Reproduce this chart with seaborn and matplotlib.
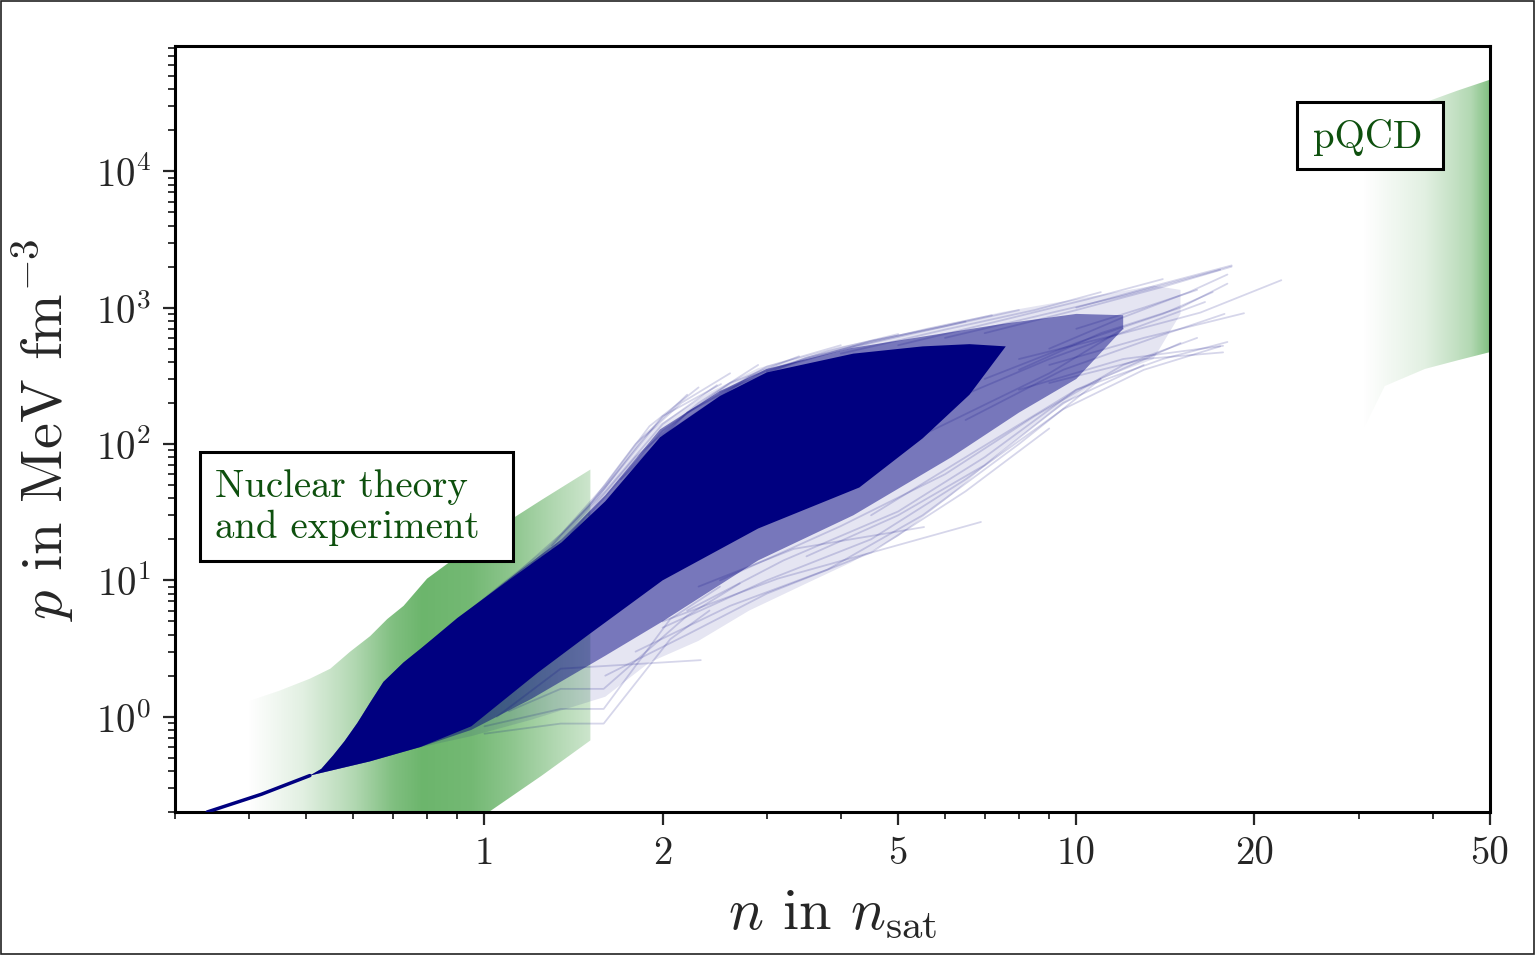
import numpy as np
import pandas as pd
import matplotlib
matplotlib.use("Agg")
import matplotlib.pyplot as plt
import seaborn as sns
from matplotlib.ticker import FixedLocator, FixedFormatter, LogLocator, NullFormatter, LogFormatterSciNotation
from matplotlib.patches import Rectangle

sns.set_style("ticks")
plt.rcParams['font.family'] = ['cmr10', 'DejaVu Serif']
plt.rcParams['mathtext.fontset'] = 'cm'
plt.rcParams['axes.formatter.use_mathtext'] = True
plt.rcParams['axes.unicode_minus'] = False

# --- green constraint bands -------------------------------------------------
nuc_x = [0.397, 0.45, 0.507, 0.549, 0.593, 0.641, 0.685, 0.73, 0.80, 1.0, 1.25, 1.51]
nuc_hi = [1.29, 1.55, 1.9, 2.25, 3.0, 3.9, 5.2, 6.5, 10.3, 21, 39, 65]
nuc_lo = [0.013, 0.018, 0.027, 0.034, 0.043, 0.055, 0.067, 0.08, 0.10, 0.19, 0.37, 0.67]

pq_x = [30.4, 33.2, 38.8, 44.0, 50.0]
pq_hi = [2.0e4, 2.4e4, 3.2e4, 3.9e4, 4.7e4]
pq_lo = [122, 266, 355, 410, 472]

# --- EoS ensemble envelopes (outer fringe, medium density, dense core) -----
out_up_x = [0.507, 0.53, 0.555, 0.58, 0.61, 0.641, 0.675, 0.73, 0.78, 1.08, 1.35, 1.55, 1.9,
            2.4, 2.9, 4.0, 5.4, 7.5, 10.5, 13.5, 15.0]
out_up_y = [0.37, 0.414, 0.52, 0.66, 0.9, 1.27, 1.8, 2.5, 3.15, 9.9, 21, 42, 125,
            240, 360, 520, 680, 930, 1200, 1450, 1350]
out_lo_x = [0.507, 0.64, 0.73, 0.95, 1.2, 1.6, 1.9, 2.3, 2.8, 3.5, 4.16, 5.0, 6.15, 7.5, 9.1, 11, 13.5, 15.0]
out_lo_y = [0.37, 0.47, 0.56, 0.72, 0.95, 1.4, 2.5, 3.6, 6.0, 9.5, 13.5, 21, 42, 90, 170, 300, 420, 900]

mid_up_x = [0.507, 0.53, 0.555, 0.58, 0.61, 0.641, 0.675, 0.73, 0.78, 1.08, 1.35, 1.6, 1.98,
            2.5, 3.0, 4.16, 5.46, 7.5, 10, 12.0]
mid_up_y = [0.37, 0.414, 0.52, 0.66, 0.9, 1.27, 1.8, 2.5, 3.15, 9.7, 20, 42, 128,
            245, 355, 505, 610, 760, 900, 880]
mid_lo_x = [0.507, 0.64, 0.78, 0.95, 1.2, 1.6, 2.0, 2.9, 4.2, 6.15, 8.0, 10.0, 12.0]
mid_lo_y = [0.37, 0.47, 0.6, 0.8, 1.35, 2.8, 5.0, 14, 30, 80, 170, 300, 700]

core_up_x = [0.34, 0.507, 0.53, 0.555, 0.58, 0.61, 0.641, 0.675, 0.73, 0.78, 0.9, 1.08,
             1.35, 1.6, 1.98, 2.5, 3.0, 4.2, 5.5, 6.6, 7.6]
core_up_y = [0.2, 0.37, 0.414, 0.52, 0.66, 0.9, 1.27, 1.8, 2.5, 3.15, 5.3, 9.5,
             19, 38, 112, 225, 335, 460, 520, 540, 520]
core_lo_x = [0.34, 0.507, 0.64, 0.78, 0.95, 1.23, 1.5, 2.0, 2.9, 4.3, 5.5, 6.6, 7.6]
core_lo_y = [0.2, 0.37, 0.47, 0.6, 0.85, 2.1, 4.0, 10, 24, 48, 110, 230, 520]

# single low-density curve (all EoS share the crust)
crust_x = [0.34, 0.42, 0.507]
crust_y = [0.2, 0.27, 0.37]

# individual curves visible in the sparse fringes
stray = {
    "A": ([1.0, 1.345, 1.59, 2.06, 2.4], [0.75, 0.89, 0.89, 3.7, 6.0]),
    "B": ([1.0, 1.345, 1.59, 2.06, 2.5], [0.85, 1.14, 1.14, 5.2, 9.0]),
    "C": ([1.1, 1.345, 1.59, 2.2, 2.7], [1.1, 1.6, 1.6, 5.5, 9.5]),
    "D": ([1.05, 1.345, 2.32], [1.0, 2.25, 2.6]),
    "E": ([2.0, 3.13, 6.9], [5.0, 10.3, 26.8]),
    "F": ([2.3, 3.33, 5.53], [9.0, 17.0, 24.6]),
    "G": ([8.0, 12.0, 16.2, 22.2], [420, 650, 920, 1590]),
    "H": ([8.0, 12.0, 17.7], [250, 420, 525]),
    "I": ([9.0, 13.0, 17.7], [280, 420, 470]),
    "J": ([9.0, 13.0, 19.2], [380, 600, 910]),
    "K": ([10.0, 14.0, 18.3], [1000, 1500, 2040]),
    "L": ([1.3, 1.6, 2.0, 2.51], [18, 48, 160, 275]),
    "M": ([4.0, 6.0, 9.0, 12.0], [60, 140, 330, 700]),
    "N": ([3.5, 5.0, 7.0, 9.5, 13.0], [15, 30, 70, 200, 380]),
    "O": ([4.5, 6.5, 10.0, 15.0], [30, 80, 250, 550]),
    "U1": ([1.2, 1.5, 1.8, 2.2], [13, 35, 100, 230]),
    "U2": ([1.3, 1.6, 2.0, 2.47], [17, 45, 140, 270]),
    "U3": ([1.4, 1.8, 2.3, 2.9], [22, 80, 200, 380]),
    "U4": ([1.5, 2.0, 2.6, 3.4], [30, 125, 280, 440]),
    "U5": ([1.7, 2.2, 3.0, 4.0], [55, 170, 370, 530]),
    "U6": ([2.0, 2.8, 3.8, 5.0], [115, 310, 480, 640]),
    "U7": ([2.5, 3.5, 5.0, 6.5], [240, 430, 610, 790]),
    "U8": ([3.0, 4.5, 6.0, 8.0], [340, 570, 730, 960]),
    "U9": ([4.0, 6.0, 8.5, 11.0], [460, 690, 960, 1300]),
    "U10": ([5.0, 7.5, 10.5, 14.0], [530, 810, 1160, 1620]),
    "U11": ([6.0, 9.0, 12.0, 17.5], [600, 910, 1220, 1900]),
    "U12": ([7.0, 10.0, 14.0, 18.3], [650, 960, 1420, 2000]),
    "U13": ([1.1, 1.35, 1.6, 1.9, 2.3], [10, 22, 50, 135, 260]),
    "U14": ([1.25, 1.55, 1.85, 2.15, 2.6], [15, 40, 110, 200, 330]),
    "U15": ([2.2, 3.0, 4.2, 5.6, 7.2], [170, 350, 520, 700, 880]),
    "W1": ([1.6, 2.2, 3.0, 4.5, 6.5, 9.0], [2.0, 4.0, 8.0, 16, 45, 130]),
    "W2": ([1.8, 2.6, 3.8, 5.5, 8.0, 11.0], [3.0, 6.5, 12, 30, 100, 300]),
    "W3": ([2.0, 3.0, 4.5, 6.5, 9.5, 13.0, 17.5], [4.5, 10, 20, 55, 180, 350, 520]),
    "W4": ([2.2, 3.2, 5.0, 7.0, 10.0, 14.0, 18.0], [6.0, 14, 32, 80, 250, 420, 560]),
    "W5": ([2.5, 4.0, 6.0, 8.5, 12.0, 16.0], [10, 25, 60, 160, 380, 600]),
    "R1": ([6.0, 9.0, 13.0, 16.5], [200, 420, 750, 1100]),
    "R2": ([7.0, 10.0, 14.0, 17.0], [300, 550, 900, 1300]),
    "R3": ([8.0, 11.0, 15.0, 18.0], [350, 650, 1000, 1500]),
    "R4": ([6.5, 9.5, 13.5, 17.8], [150, 350, 600, 900]),
    "R5": ([9.0, 12.0, 15.5, 18.0], [500, 850, 1300, 1750]),
    "R6": ([10.0, 13.0, 16.0], [700, 1000, 1350]),
}

x_ticks = [1, 2, 5, 10, 20, 50]
x_ticklabels = ["1", "2", "5", "10", "20", "50"]
xlim = (0.3, 50)
ylim = (0.2, 8.3e4)

navy = "#000080"
green = (0.0, 0.5, 0.0)
text_green = "#0e500e"

fig = plt.figure(figsize=(15.37, 9.62), dpi=100)
ax = fig.add_axes([175 / 1537, 1 - 813 / 962, 1315 / 1537, 766 / 962])
ax.set_xscale("log")
ax.set_yscale("log")
ax.set_xlim(*xlim)
ax.set_ylim(*ylim)
ax.set_autoscale_on(False)


def gradient_band(x, lo, hi, t_pts, a_pts):
    poly = ax.fill_between(x, lo, hi, facecolor="none", edgecolor="none")
    lx0, lx1 = np.log10(xlim)
    f0 = (np.log10(x[0]) - lx0) / (lx1 - lx0)
    f1 = (np.log10(x[-1]) - lx0) / (lx1 - lx0)
    t = np.linspace(0, 1, 400)
    img = np.zeros((2, t.size, 4))
    img[..., 0] = green[0]
    img[..., 1] = green[1]
    img[..., 2] = green[2]
    img[..., 3] = np.interp(t, t_pts, a_pts)
    im = ax.imshow(img, extent=[f0, f1, 0, 1], transform=ax.transAxes,
                   aspect="auto", interpolation="bilinear", zorder=1)
    im.set_clip_path(poly.get_paths()[0], transform=ax.transData)


gradient_band(nuc_x, nuc_lo, nuc_hi,
              [0, 0.164, 0.308, 0.424, 0.51, 0.654, 0.769, 0.885, 1.0],
              [0, 0.12, 0.3, 0.5, 0.58, 0.55, 0.45, 0.32, 0.2])
gradient_band(pq_x, pq_lo, pq_hi, [0, 0.5, 0.85, 1.0], [0, 0.12, 0.3, 0.5])

# ensemble of EoS: stacked density layers
ax.fill(out_up_x + out_lo_x[::-1], out_up_y + out_lo_y[::-1], color=navy, alpha=0.10, lw=0, zorder=2)
ax.fill(mid_up_x + mid_lo_x[::-1], mid_up_y + mid_lo_y[::-1], color=navy, alpha=0.48, lw=0, zorder=2)
ax.fill(core_up_x + core_lo_x[::-1], core_up_y + core_lo_y[::-1], color=navy, alpha=1.0, lw=0, zorder=2)

rows = []
for name, (xs, ys) in stray.items():
    for xv, yv in zip(xs, ys):
        rows.append((name, xv, yv))
stray_df = pd.DataFrame(rows, columns=["curve", "n", "p"])
sns.lineplot(data=stray_df, x="n", y="p", units="curve", estimator=None, sort=False,
             color=navy, alpha=0.16, lw=1.3, ax=ax, legend=False, zorder=3)
sns.lineplot(x=crust_x, y=crust_y, color=navy, lw=2.5, ax=ax, zorder=3)

ax.set_xlim(*xlim)
ax.set_ylim(*ylim)

# ticks
ax.xaxis.set_major_locator(FixedLocator(x_ticks))
ax.xaxis.set_major_formatter(FixedFormatter(x_ticklabels))
ax.xaxis.set_minor_locator(LogLocator(base=10, subs=np.arange(2, 10)))
ax.xaxis.set_minor_formatter(NullFormatter())
ax.yaxis.set_major_locator(LogLocator(base=10, numticks=10))
ax.yaxis.set_major_formatter(LogFormatterSciNotation())
ax.yaxis.set_minor_locator(LogLocator(base=10, subs=np.arange(2, 10), numticks=20))
ax.yaxis.set_minor_formatter(NullFormatter())
ax.tick_params(which="major", direction="out", length=9, width=1.6, labelsize=28, pad=8)
ax.tick_params(which="minor", direction="out", length=5, width=1.3)
for sp in ax.spines.values():
    sp.set_linewidth(2.2)
    sp.set_color("black")
    sp.set_visible(True)

ax.set_xlabel(r"$n$ in $n_{\rm sat}$", fontsize=42, labelpad=12)
ax.set_ylabel(r"$p$ in MeV fm$^{-3}$", fontsize=42, labelpad=14)

# annotation boxes
ax.add_patch(Rectangle((0.019, 0.3277), 0.238, 0.1423, transform=ax.transAxes,
                       facecolor="white", edgecolor="black", lw=2.2, zorder=5))
ax.text(0.0304, 0.4125, "Nuclear theory", transform=ax.transAxes, fontsize=28,
        color=text_green, va="baseline", ha="left", zorder=6)
ax.text(0.0304, 0.359, "and experiment", transform=ax.transAxes, fontsize=28,
        color=text_green, va="baseline", ha="left", zorder=6)
ax.add_patch(Rectangle((0.8532, 0.8394), 0.1111, 0.0875, transform=ax.transAxes,
                       facecolor="white", edgecolor="black", lw=2.2, zorder=5))
ax.text(0.8654, 0.868, "pQCD", transform=ax.transAxes, fontsize=28,
        color=text_green, va="baseline", ha="left", zorder=6)

# outer frame of the figure
fig.patches.append(Rectangle((0.0005, 1 - 955 / 962), 1533 / 1537, 953 / 962,
                             transform=fig.transFigure, fill=False,
                             edgecolor="#222222", lw=1.2))

fig.savefig("out.png", dpi=100)
